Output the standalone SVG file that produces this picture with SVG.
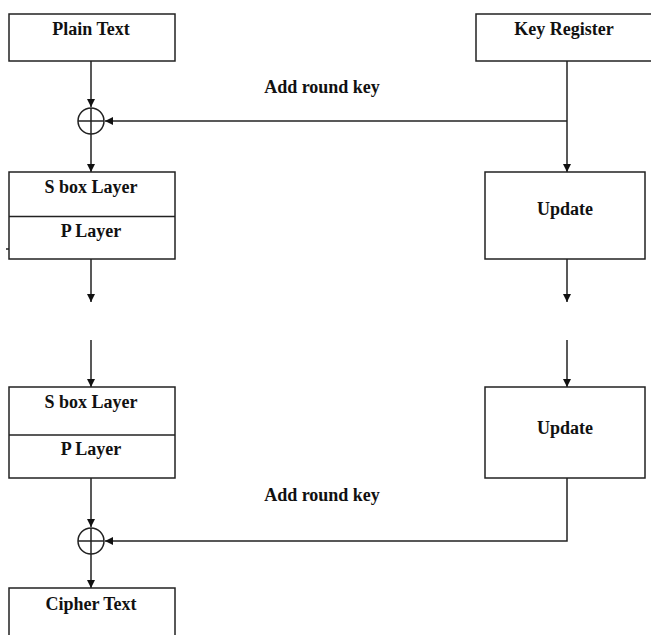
<svg xmlns="http://www.w3.org/2000/svg" width="651" height="635" viewBox="0 0 651 635">
<style>
.box{fill:#fff;stroke:#222;stroke-width:1.5}
.ln{fill:none;stroke:#222;stroke-width:1.5}
.t{font-family:"Liberation Serif","Times New Roman",serif;font-weight:bold;font-size:18px;fill:#111;text-anchor:middle}
</style>
<defs>
<marker id="ah" viewBox="0 0 10 10" refX="10" refY="5" markerWidth="8" markerHeight="8" markerUnits="userSpaceOnUse" orient="auto">
<path d="M0,0 L10,5 L0,10 z" fill="#111"/>
</marker>
</defs>
<rect width="651" height="635" fill="#fff"/>
<g id="connectors">
<line class="ln" x1="91" y1="61" x2="91" y2="107" marker-end="url(#ah)"/>
<line class="ln" x1="567" y1="121" x2="105" y2="121" marker-end="url(#ah)"/>
<line class="ln" x1="91" y1="134" x2="91" y2="172" marker-end="url(#ah)"/>
<line class="ln" x1="91" y1="259" x2="91" y2="302" marker-end="url(#ah)"/>
<line class="ln" x1="91" y1="340" x2="91" y2="387" marker-end="url(#ah)"/>
<line class="ln" x1="91" y1="478" x2="91" y2="527" marker-end="url(#ah)"/>
<path class="ln" d="M567,478 V541 H105" marker-end="url(#ah)"/>
<line class="ln" x1="91" y1="554" x2="91" y2="588" marker-end="url(#ah)"/>
<line class="ln" x1="567" y1="61" x2="567" y2="172" marker-end="url(#ah)"/>
<line class="ln" x1="567" y1="259" x2="567" y2="302" marker-end="url(#ah)"/>
<line class="ln" x1="567" y1="340" x2="567" y2="387" marker-end="url(#ah)"/>
<line class="ln" x1="6" y1="249" x2="9" y2="249"/>
<text class="t" x="322" y="93">Add round key</text>
<text class="t" x="322" y="501">Add round key</text>
</g>
<g id="plain-text">
<rect class="box" x="9" y="14" width="166" height="47"/>
<text class="t" x="91" y="35">Plain Text</text>
</g>
<g id="key-register">
<rect class="box" x="476" y="14" width="180" height="47"/>
<text class="t" x="564" y="35">Key Register</text>
</g>
<g id="xor1">
<circle class="ln" cx="91" cy="121" r="13"/>
<line class="ln" x1="78" y1="121" x2="104" y2="121"/>
<line class="ln" x1="91" y1="108" x2="91" y2="134"/>
</g>
<g id="round1">
<rect class="box" x="9" y="172" width="166" height="87"/>
<line class="ln" x1="9" y1="216.5" x2="175" y2="216.5"/>
<text class="t" x="91" y="193">S box Layer</text>
<text class="t" x="91" y="237">P Layer</text>
</g>
<g id="update1">
<rect class="box" x="485" y="172" width="160" height="87"/>
<text class="t" x="565" y="215">Update</text>
</g>
<g id="round2">
<rect class="box" x="9" y="387" width="166" height="91"/>
<line class="ln" x1="9" y1="435" x2="175" y2="435"/>
<text class="t" x="91" y="408">S box Layer</text>
<text class="t" x="91" y="455">P Layer</text>
</g>
<g id="update2">
<rect class="box" x="485" y="387" width="160" height="91"/>
<text class="t" x="565" y="434">Update</text>
</g>
<g id="xor2">
<circle class="ln" cx="91" cy="541" r="13"/>
<line class="ln" x1="78" y1="541" x2="104" y2="541"/>
<line class="ln" x1="91" y1="528" x2="91" y2="554"/>
</g>
<g id="cipher-text">
<rect class="box" x="9" y="588" width="166" height="60"/>
<text class="t" x="91" y="610">Cipher Text</text>
</g>
</svg>
